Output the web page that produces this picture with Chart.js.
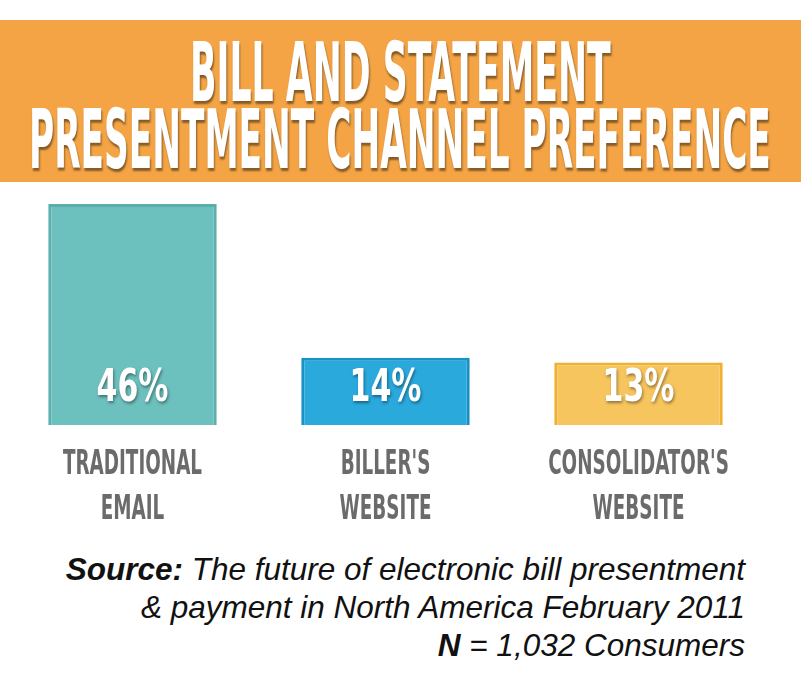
<!DOCTYPE html>
<html><head><meta charset="utf-8">
<script src="https://cdn.jsdelivr.net/npm/chart.js@4"></script>
<style>
body{margin:0;width:801px;height:696px;background:#fff;position:relative;overflow:hidden;font-family:"Liberation Sans",Arial,sans-serif}
#banner{position:absolute;left:0;top:20px;width:801px;height:162px;background:#f4a444}
.t{position:absolute;left:0;white-space:nowrap;color:#fff;font-family:"DejaVu Sans Condensed","Liberation Sans Narrow",sans-serif;font-weight:bold;font-size:82px;line-height:1;text-shadow:2px 3px 3px rgba(0,0,0,.45);transform-origin:left top}
#src{position:absolute;right:56px;top:550px;text-align:right;font-style:italic;font-size:31.5px;line-height:38px;color:#111;white-space:nowrap}
#wrap{position:absolute;left:6px;top:194px;width:759px;height:340px}
</style></head><body>
<div id="banner"></div>
<span class="t" style="top:32px" data-w="421">BILL AND STATEMENT</span>
<span class="t" style="top:99px" data-w="742">PRESENTMENT CHANNEL PREFERENCE</span>
<div id="wrap"><canvas id="c"></canvas></div>
<div id="src"><b>Source:</b> The future of electronic bill presentment<br>&amp; payment in North America February 2011<br><b>N</b> = 1,032 Consumers</div>
<script>
const categories=[["TRADITIONAL","EMAIL"],["BILLER'S","WEBSITE"],["CONSOLIDATOR'S","WEBSITE"]];
const values=[46,14,13];
const valueLabels=["46%","14%","13%"];
const fills=["#6cc0be","#2aa9dd","#f7c55e"];
const borders=["#5aafac","#1a90c6","#f0b133"];

document.querySelectorAll('.t').forEach(s=>{const w=s.offsetWidth,tw=+s.dataset.w;s.style.left=(400-tw/2)+'px';s.style.transform='scaleX('+(tw/w)+')';});

function condText(ctx,txt,x,y,w){const m=ctx.measureText(txt).width;ctx.save();ctx.translate(x,y);ctx.scale(w/m,1);ctx.fillText(txt,0,0);ctx.restore();}
const labelPlugin={id:'lbl',afterDatasetsDraw(chart){
 const ctx=chart.ctx,meta=chart.getDatasetMeta(0),ya=chart.scales.y;
 ctx.save();ctx.textAlign='center';ctx.textBaseline='middle';
 meta.data.forEach((bar,i)=>{
  ctx.font='bold 44px "DejaVu Sans Condensed"';ctx.fillStyle='#fff';
  ctx.shadowColor='rgba(0,0,0,.4)';ctx.shadowOffsetX=1;ctx.shadowOffsetY=2;ctx.shadowBlur=3;
  condText(ctx,valueLabels[i],bar.x,ya.getPixelForValue(0)-35,72);
  ctx.shadowColor='transparent';
  ctx.font='bold 34px "DejaVu Sans Condensed"';ctx.fillStyle='#6b6b6b';
  categories[i].forEach((ln,j)=>{const wd=ctx.measureText(ln).width*0.6;condText(ctx,ln,bar.x,ya.getPixelForValue(0)+40+j*45,wd);});
 });
 ctx.restore();}};
new Chart(document.getElementById('c'),{type:'bar',
 data:{labels:categories.map(c=>c.join(' ')),datasets:[{data:values,backgroundColor:fills,borderColor:borders,borderWidth:3,barPercentage:0.9,categoryPercentage:0.74}]},
 options:{responsive:true,maintainAspectRatio:false,animation:false,layout:{padding:{top:10,bottom:109}},
  plugins:{legend:{display:false},tooltip:{enabled:false}},
  scales:{x:{display:false},y:{display:false,min:0,max:46}}},
 plugins:[labelPlugin]});
</script></body></html>
